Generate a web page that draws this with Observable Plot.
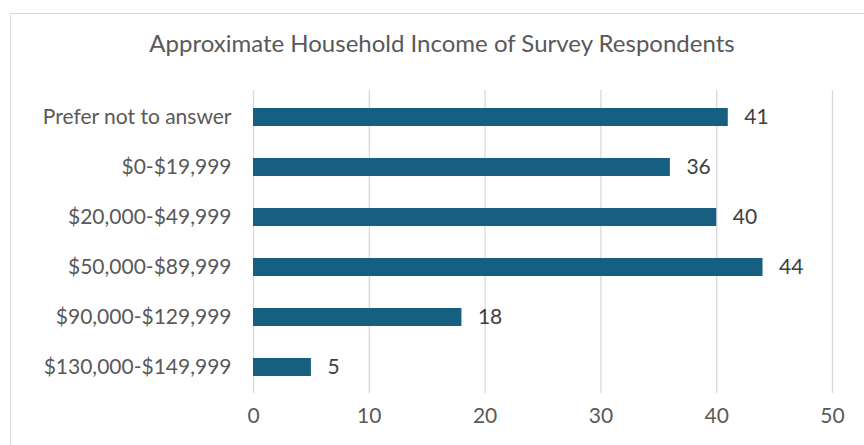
<!DOCTYPE html>
<html>
<head>
<meta charset="utf-8">
<script src="https://cdn.jsdelivr.net/npm/d3@7"></script>
<script src="https://cdn.jsdelivr.net/npm/@observablehq/plot@0.6"></script>
<style>
  html, body { margin: 0; padding: 0; background: #fff; }
  #wrap { position: relative; width: 864px; height: 445px; overflow: hidden; font-family: Lato, "Open Sans", sans-serif; }
  #frame { position: absolute; left: 10px; top: 13px; width: 860px; height: 440px; border: 1px solid #d9d9d9; box-sizing: border-box; }
  #title { position: absolute; left: 0; top: 0; width: 884px; height: 70px; line-height: 86px; text-align: center; font-size: 24px; color: #595959; }
  #chart { position: absolute; left: 0; top: 70px; }
</style>
</head>
<body>
<div id="wrap">
  <div id="frame"></div>
  <div id="title">Approximate Household Income of Survey Respondents</div>
  <div id="chart"></div>
</div>
<script>
const categories = ["Prefer not to answer", "$0-$19,999", "$20,000-$49,999", "$50,000-$89,999", "$90,000-$129,999", "$130,000-$149,999"];
const counts = [41, 36, 40, 44, 18, 5];
const xTicks = [0, 10, 20, 30, 40, 50];

const data = categories.map((c, i) => ({category: c, count: counts[i]}));

const chart = Plot.plot({
  width: 864,
  height: 375,
  marginLeft: 253,
  marginRight: 32,
  marginTop: 20,
  marginBottom: 52,
  style: {fontFamily: "Lato, 'Open Sans', sans-serif", background: "transparent"},
  x: {domain: [0, 50], ticks: xTicks, label: null, tickSize: 0},
  y: {domain: categories, paddingInner: 0.645, paddingOuter: 0.3225, label: null, tickSize: 0},
  marks: [
    Plot.gridX(xTicks, {stroke: "#d9d9d9", strokeOpacity: 1, strokeWidth: 1.3}),
    Plot.barX(data, {x: "count", y: "category", fill: "#175f80"}),
    Plot.text(data, {x: "count", y: "category", text: d => String(d.count), textAnchor: "start", dx: 16, fontSize: 21, fill: "#404040"}),
    Plot.axisY({tickSize: 0, tickPadding: 22, fontSize: 21, color: "#595959"}),
    Plot.axisX(xTicks, {tickSize: 0, tickPadding: 15, fontSize: 21, color: "#595959"})
  ]
});
document.getElementById("chart").appendChild(chart);
</script>
</body>
</html>
